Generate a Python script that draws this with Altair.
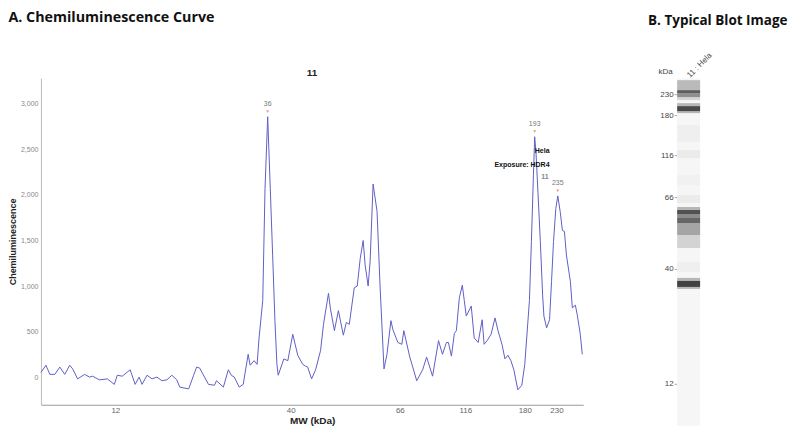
import altair as alt
import pandas as pd

# ---------------- Panel A: chemiluminescence trace ----------------
# migration position along the capillary (arbitrary units) and signal
positions = [0, 5, 9, 14, 19, 24, 29, 32, 37, 44, 49, 52, 59, 67, 74, 77, 82, 90, 95, 99,
             102, 107, 112, 117, 122, 127, 132, 137, 140, 149, 154, 157, 160, 165, 169, 175,
             177, 184, 189, 192, 195, 200, 204, 209, 211, 215, 218, 220, 223.7, 226, 228.7,
             231.3, 233.7, 236, 238, 239.3, 245, 249, 254, 259, 264, 267, 269, 273, 277, 282,
             285, 290, 292, 296, 300, 305, 308, 311, 316, 319, 322, 325, 327, 330, 332, 335,
             339, 342, 346, 349, 353, 355, 360, 364, 366, 372, 375, 379, 385, 389, 395, 401,
             405, 409, 411, 414, 417, 419, 422, 425, 427, 429, 434, 437, 441, 445, 447, 450,
             454, 458, 461, 465, 468, 471, 474, 477, 481, 485, 488, 492.7, 494.7, 496.7, 498,
             499.3, 501.3, 503.7, 506, 507.3, 510, 513, 515, 517, 519.3, 521.3, 523.7, 526,
             528, 530, 534, 536, 539, 541, 544, 546]
signal = [50, 130, 30, 30, 110, 30, 130, 90, -20, 30, 0, 10, -30, -20, -80, 20, 10, 80, -80, 0,
          -80, 20, -20, 0, -40, -30, 20, -30, -110, -130, 20, 110, 100, 0, -80, -90,
          -40, -110, 80, 20, 0, -110, -80, 250, 130, 180, 140, 430, 840, 2070, 2860,
          2070, 1340, 620, 140, 20, 200, 180, 470, 240, 140, 120, 110, -20, 80, 290,
          580, 920, 750, 510, 730, 460, 600, 580, 980, 1000, 1300, 1500, 1230, 1000, 1270, 2120,
          1820, 1010, 90, 250, 620, 520, 380, 360, 510, 220, 110, -40, 80, 220, 10, 400,
          250, 380, 380, 230, 480, 510, 870, 1010, 840, 670, 780, 430, 380, 630, 360, 400,
          470, 650, 510, 360, 200, 240, 180, 80, -140, -90, 140, 840, 1490, 2210, 2640,
          2470, 2030, 1490, 900, 670, 540, 630, 1050, 1490, 1850, 1990, 1820, 1610,
          1600, 1340, 1050, 760, 790, 680, 470, 250]

mw_tick_positions = [75, 252, 362, 428, 488, 520]
mw_tick_labels = ["12", "40", "66", "116", "180", "230"]
y_tick_values = [0, 500, 1000, 1500, 2000, 2500, 3000]

peak_positions = [228.7, 498, 521.3]
peak_signal = [2860, 2640, 1990]
peak_labels = ["36", "193", "235"]

note_texts = ["Hela", "Exposure: HDR4", "11"]
note_positions = [513, 513, 512]
note_signal = [2480, 2330, 2200]
note_colors = ["#111111", "#111111", "#888888"]

sample_name = "11"

# ---------------- Panel B: blot lane ----------------
lane_name = "11 : Hela"
band_top = [2, 12, 15, 19, 25, 28, 33, 47, 72, 97, 117, 129, 132, 136, 140, 145, 157, 184, 200, 203, 209]
band_bottom = [12, 15, 19, 22, 28, 33, 35, 64, 80, 107, 125, 132, 136, 140, 145, 157, 170, 194, 203, 209, 211]
band_intensity = [0.28, 0.72, 0.48, 0.15, 0.3, 0.82, 0.3, 0.03, 0.05, 0.025, 0.05, 0.3, 0.78, 0.5, 0.68, 0.38,
                  0.16, 0.03, 0.3, 0.85, 0.3]
lane_length = 348
blot_tick_positions = [16, 37, 77, 119, 191, 306]
blot_tick_labels = ["230", "180", "116", "66", "40", "12"]


def label_expr(vals, labels):
    return "[" + ",".join("'%s'" % l for l in labels) + "][indexof([" + ",".join(str(v) for v in vals) + "], datum.value)]"


trace = pd.DataFrame({"pos": positions, "signal": signal})
peaks = pd.DataFrame({"pos": peak_positions, "signal": peak_signal, "label": peak_labels})
notes = pd.DataFrame({"pos": note_positions, "signal": note_signal, "text": note_texts, "color": note_colors})

W, H = 543, 327
xscale = alt.Scale(domain=[0, 547], nice=False, zero=False)
yscale = alt.Scale(domain=[-304, 3283], nice=False, zero=False)

line = alt.Chart(trace).mark_line(color="#5f5fc6", strokeWidth=1).encode(
    x=alt.X("pos:Q", scale=xscale,
            axis=alt.Axis(values=mw_tick_positions, labelExpr=label_expr(mw_tick_positions, mw_tick_labels),
                          ticks=False, grid=False, domainColor="#9a9a9a", labelFontSize=8, labelColor="#666666",
                          labelPadding=2, title="MW (kDa)", titleFontSize=10, titleFontWeight="bold",
                          titleColor="#222222", titlePadding=1, labelFont="Liberation Sans",
                          titleFont="Liberation Sans")),
    y=alt.Y("signal:Q", scale=yscale,
            axis=alt.Axis(values=y_tick_values, format=",.0f", ticks=False, grid=False, domainColor="#bbbbbb",
                          labelFontSize=7, labelColor="#888888", labelPadding=3, title="Chemiluminescence",
                          titleFontSize=9, titleFontWeight="bold", titleColor="#222222", titlePadding=3,
                          labelFont="Liberation Sans", titleFont="Liberation Sans")),
)

marks = alt.Chart(peaks).mark_point(shape="triangle-down", filled=True, color="#e8735a", size=10, yOffset=-5).encode(
    x=alt.X("pos:Q", scale=xscale), y=alt.Y("signal:Q", scale=yscale))

peak_text = alt.Chart(peaks).mark_text(dy=-13, fontSize=7, color="#777777", font="Liberation Sans").encode(
    x=alt.X("pos:Q", scale=xscale), y=alt.Y("signal:Q", scale=yscale), text="label:N")

note_text = alt.Chart(notes).mark_text(align="right", fontSize=7, fontWeight="bold", font="Liberation Sans").encode(
    x=alt.X("pos:Q", scale=xscale), y=alt.Y("signal:Q", scale=yscale), text="text:N",
    color=alt.Color("color:N", scale=None))

sample_title = alt.Chart(pd.DataFrame({"t": [sample_name]})).mark_text(
    fontSize=10, fontWeight="bold", font="Liberation Sans", color="#222222", baseline="middle").encode(
    x=alt.value(W / 2), y=alt.value(-5), text="t:N")

left = alt.layer(line, marks, peak_text, note_text, sample_title).properties(
    width=W, height=H,
    title=alt.TitleParams("A. Chemiluminescence Curve", anchor="start", frame="bounds", fontSize=14.3,
                          font="Open Sans", fontWeight="bold", color="#111111", offset=43))

bands = pd.DataFrame({"lane": lane_name, "top": band_top, "bottom": band_bottom, "intensity": band_intensity})
lane_bg = pd.DataFrame({"lane": [lane_name], "top": [0], "bottom": [lane_length]})

bx = alt.X("lane:N", scale=alt.Scale(paddingInner=0, paddingOuter=0),
           axis=alt.Axis(orient="top", labelAngle=-45, labelAlign="left", labelBaseline="middle", ticks=False,
                         domain=False, labelFontSize=8, labelColor="#444444", labelPadding=2, title=None,
                         labelFont="Liberation Sans"))
byscale = alt.Scale(domain=[0, lane_length], reverse=True, nice=False, zero=False)

bg = alt.Chart(lane_bg).mark_rect(color="#f6f6f6").encode(
    x=bx,
    y=alt.Y("top:Q", scale=byscale,
            axis=alt.Axis(values=blot_tick_positions, labelExpr=label_expr(blot_tick_positions, blot_tick_labels),
                          tickSize=3, tickColor="#aaaaaa", domain=False, grid=False, labelFontSize=8,
                          labelColor="#444444", labelPadding=1, title="kDa", titleAngle=0, titleFontSize=8,
                          titleFontWeight="normal", titleColor="#444444", titleX=-12, titleY=-7,
                          titleAlign="center", titleBaseline="middle", labelFont="Liberation Sans",
                          titleFont="Liberation Sans")),
    y2="bottom:Q")

band_marks = alt.Chart(bands).mark_rect(color="#222222").encode(
    x=bx, y=alt.Y("top:Q", scale=byscale), y2="bottom:Q",
    opacity=alt.Opacity("intensity:Q", scale=alt.Scale(domain=[0, 1], range=[0, 1]), legend=None))

right = alt.layer(bg, band_marks).properties(
    width=23, height=lane_length,
    title=alt.TitleParams("B.  Typical Blot Image", anchor="start", frame="bounds", fontSize=13.5,
                          font="Open Sans", fontWeight="bold", color="#111111", dx=-10, offset=24))

chart = alt.hconcat(left, right, spacing=62).configure_view(stroke=None).properties(
    padding={"top": 2, "left": 0, "right": 0, "bottom": 0})

chart.save("out.html", embed_options={"renderer": "svg", "actions": False})
